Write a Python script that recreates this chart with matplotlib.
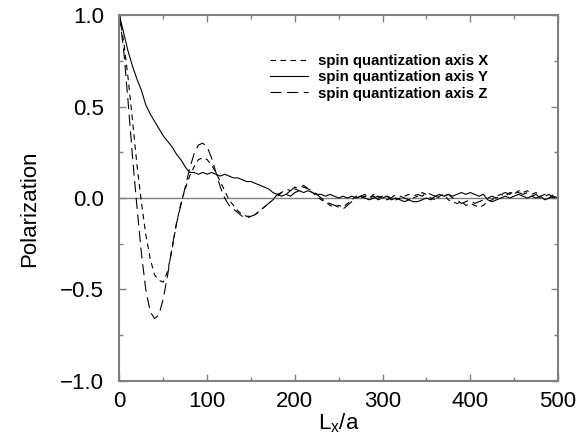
import numpy as np
import matplotlib
matplotlib.use("Agg")
import matplotlib.pyplot as plt
from matplotlib.ticker import MultipleLocator

plt.rcParams['font.family'] = ['Liberation Sans', 'DejaVu Sans']

################# Data (step 5 in Lx/a)
Lx = np.arange(0, 505, 5)

polX = [1.00, 0.85, 0.65, 0.42, 0.18, -0.02, -0.20, -0.33, -0.42, -0.45,
        -0.46, -0.40, -0.28, -0.14, -0.03, 0.05, 0.12, 0.17, 0.21, 0.22,
        0.21, 0.18, 0.14, 0.09, 0.04, -0.01, -0.04, -0.07, -0.09, -0.10,
        -0.10, -0.09, -0.07, -0.05, -0.03, -0.01, 0.01, 0.03, 0.02, 0.04,
        0.05, 0.04, 0.06, 0.05, 0.03, 0.01, -0.01, -0.02, -0.04, -0.05,
        -0.04, -0.05, -0.03, -0.01, 0.01, 0.00, 0.01, 0.00, 0.02, 0.00,
        0.01, -0.01, 0.00, -0.01, 0.00, 0.01, 0.02, 0.00, 0.01, 0.03,
        0.02, 0.00, -0.01, 0.01, 0.02, -0.01, -0.02, -0.03, -0.02, -0.04,
        -0.03, -0.04, -0.05, -0.04, -0.02, -0.01, 0.01, 0.02, 0.01, 0.03,
        0.02, 0.04, 0.03, 0.04, 0.02, 0.03, 0.01, 0.02, 0.00, 0.02,
        0.01]

polY = [1.00, 0.90, 0.80, 0.72, 0.65, 0.59, 0.51, 0.46, 0.42, 0.38,
        0.34, 0.31, 0.28, 0.24, 0.21, 0.17, 0.14, 0.14, 0.13, 0.14,
        0.13, 0.14, 0.13, 0.12, 0.13, 0.12, 0.11, 0.11, 0.10, 0.09,
        0.09, 0.08, 0.07, 0.06, 0.05, 0.03, 0.02, 0.01, 0.02, 0.01,
        0.03, 0.04, 0.03, 0.04, 0.03, 0.02, 0.02, 0.01, 0.02, 0.01,
        0.00, 0.01, 0.00, 0.01, 0.00, 0.01, 0.00, -0.01, 0.00, 0.01,
        0.00, 0.01, -0.01, 0.00, -0.01, -0.02, -0.01, -0.02, -0.02, -0.01,
        0.00, -0.01, 0.01, 0.02, 0.01, 0.02, 0.01, 0.02, 0.03, 0.02,
        0.03, 0.02, 0.01, 0.02, -0.01, -0.02, -0.01, 0.00, 0.01, 0.00,
        0.01, 0.02, 0.01, 0.00, 0.01, 0.00, 0.01, -0.01, 0.00, 0.01,
        0.00]

polZ = [1.00, 0.80, 0.52, 0.22, -0.05, -0.30, -0.50, -0.62, -0.66, -0.64,
        -0.55, -0.42, -0.27, -0.14, -0.04, 0.06, 0.16, 0.24, 0.29, 0.30,
        0.28, 0.22, 0.14, 0.06, 0.00, -0.04, -0.06, -0.08, -0.10, -0.11,
        -0.10, -0.09, -0.07, -0.05, -0.03, -0.01, 0.02, 0.03, 0.05, 0.04,
        0.06, 0.05, 0.07, 0.05, 0.04, 0.02, 0.00, -0.02, -0.03, -0.04,
        -0.05, -0.06, -0.04, -0.02, 0.00, 0.01, 0.02, 0.00, 0.01, -0.01,
        0.00, 0.01, 0.00, 0.02, 0.01, 0.00, -0.01, 0.01, 0.02, 0.01,
        0.03, 0.02, 0.01, 0.00, 0.01, 0.02, 0.00, -0.01, -0.03, -0.02,
        -0.01, -0.03, -0.02, -0.01, 0.00, 0.01, 0.00, 0.02, 0.03, 0.02,
        0.04, 0.03, 0.02, 0.03, 0.01, 0.02, 0.00, 0.01, 0.02, 0.00,
        0.01]

labels = ["spin quantization axis X", "spin quantization axis Y", "spin quantization axis Z"]

assert len(polX) == len(Lx) and len(polY) == len(Lx) and len(polZ) == len(Lx)

################# Figure
fig = plt.figure(figsize=(5.77, 4.48), dpi=100)
ax = fig.add_axes([0.207, 0.150, 0.760, 0.816])

ax.axhline(0, color='#808080', lw=1.0, zorder=1)
ax.plot(Lx, polX, color='k', lw=0.8, linestyle=(0, (5, 4)), label=labels[0])
ax.plot(Lx, polY, color='k', lw=0.8, linestyle='-', label=labels[1])
ax.plot(Lx, polZ, color='k', lw=0.8, linestyle=(0, (10, 5)), label=labels[2])

ax.set_xlim(0, 500)
ax.set_ylim(-1.0, 1.0)
ax.xaxis.set_major_locator(MultipleLocator(100))
ax.xaxis.set_minor_locator(MultipleLocator(50))
ax.yaxis.set_minor_locator(MultipleLocator(0.25))
ax.set_yticks([-1.0, -0.5, 0.0, 0.5, 1.0])
ax.set_yticklabels(["\u22121.0", "\u22120.5", "0.0", "0.5", "1.0"])
ax.tick_params(which='both', direction='in', top=True, right=True,
               color='#808080', labelsize=16)
ax.tick_params(which='major', length=5, width=1.0)
ax.tick_params(which='minor', length=3, width=1.0)
ax.tick_params(axis='y', which='major', pad=11)
ax.tick_params(axis='x', which='major', pad=7)
for s in ax.spines.values():
    s.set_color('#808080')
    s.set_linewidth(1.5)

ax.set_xlabel("L$_\\mathregular{x}$/a", fontsize=16, labelpad=0)
ax.set_ylabel("Polarization", fontsize=16)
ax.yaxis.set_label_coords(-0.18, 0.47)

leg = ax.legend(loc='upper left', bbox_to_anchor=(0.33, 0.91), frameon=False,
                prop={'weight': 'bold', 'size': 10.8}, handlelength=2.5,
                handletextpad=0.7, labelspacing=0.15, borderaxespad=0)

fig.savefig("out.png", dpi=100)
